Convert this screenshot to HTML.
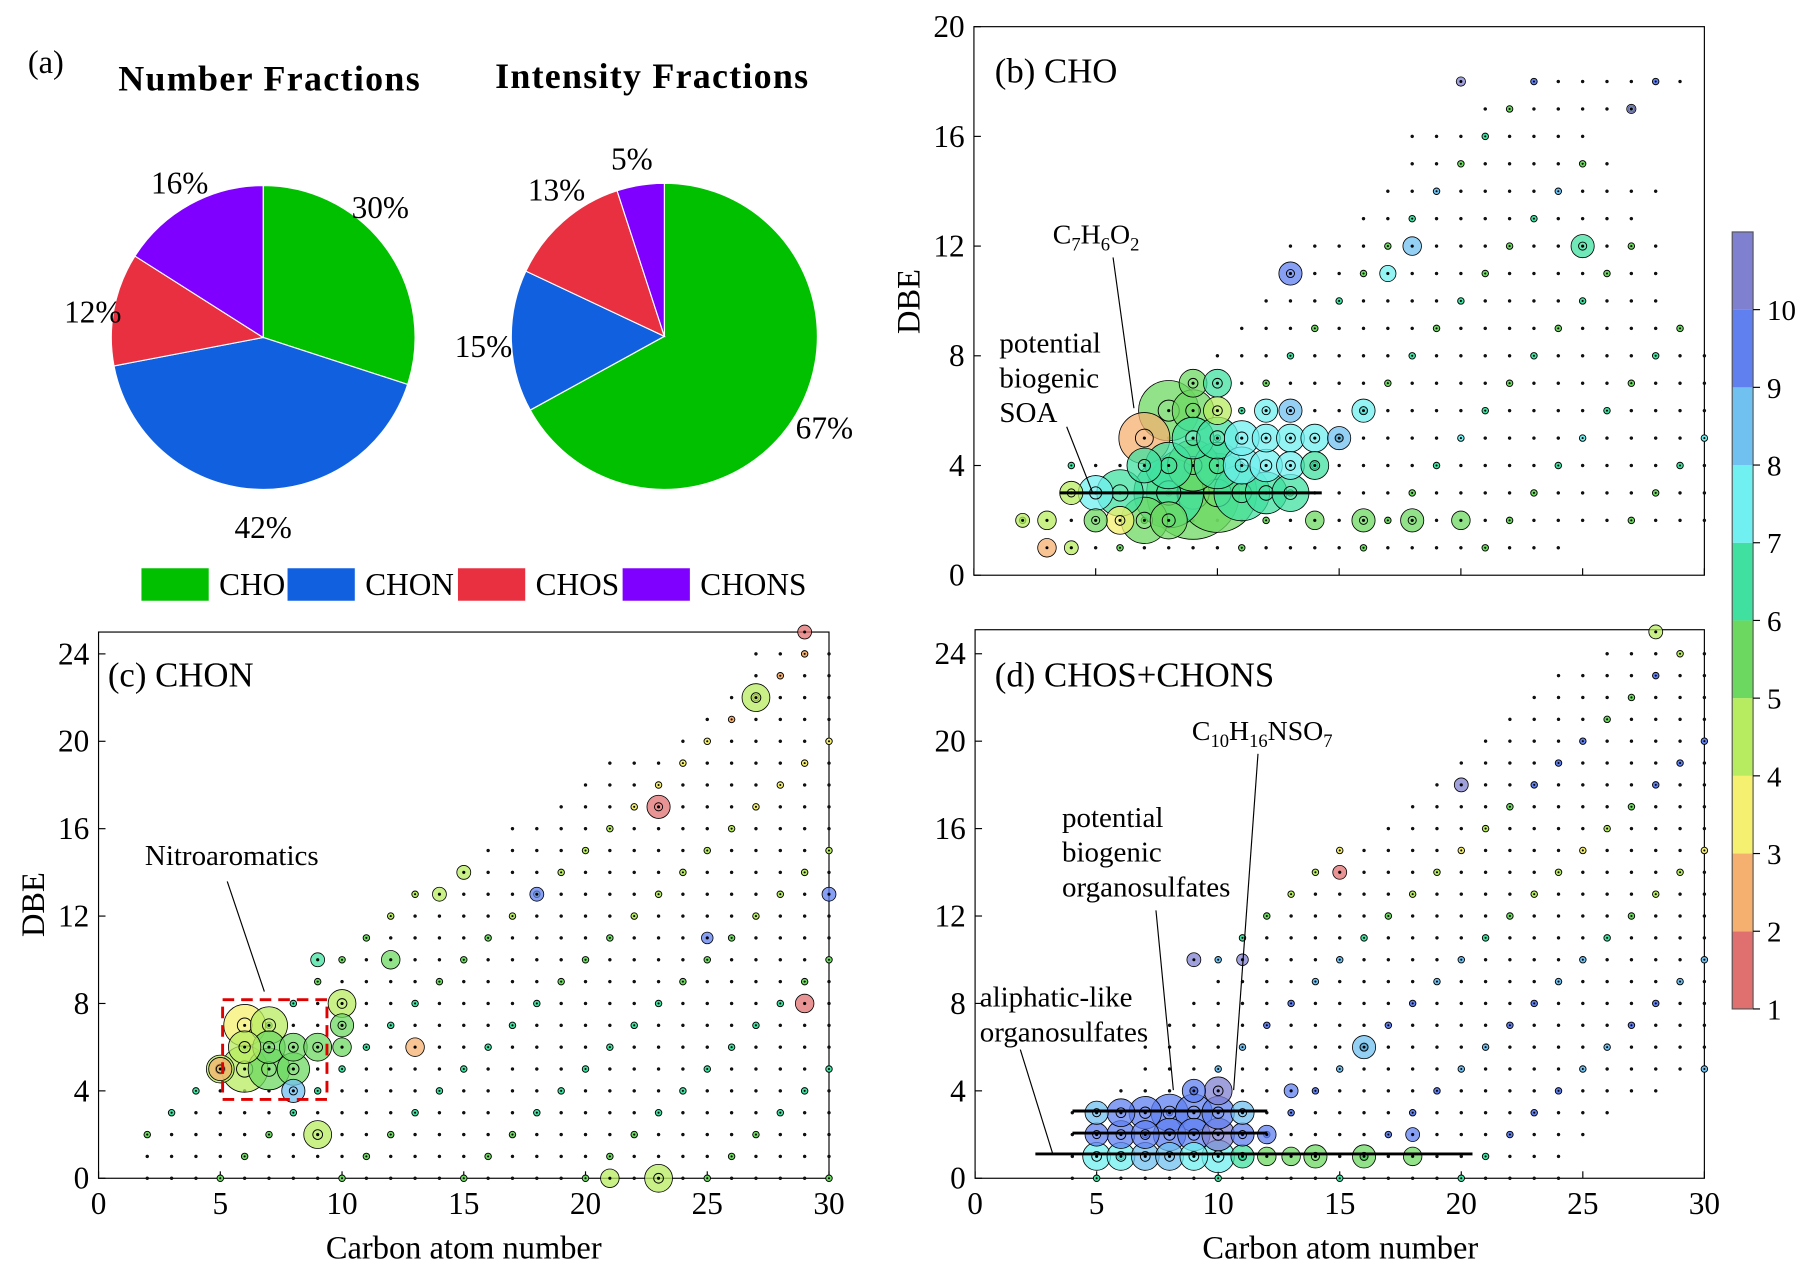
<!DOCTYPE html>
<html><head><meta charset="utf-8">
<style>
html,body{margin:0;padding:0;background:#fff;}
svg{display:block;font-family:"Liberation Serif",serif;}
</style></head>
<body>
<svg id="fig" width="1818" height="1278" viewBox="0 0 1568 1102" preserveAspectRatio="none" xmlns="http://www.w3.org/2000/svg">
<rect width="1568" height="1102" fill="#fff"/>
<g id="pies"></g>
<g id="pb"></g>
<g id="pc"></g>
<g id="pd"></g>
<g id="cbar"></g>
<g id="ann" font-size="25">
  <text x="24" y="63" font-size="28">(a)</text>
  <text x="232" y="78" font-size="31" font-weight="bold" text-anchor="middle" textLength="260">Number Fractions</text>
  <text x="562" y="76" font-size="31" font-weight="bold" text-anchor="middle" textLength="270">Intensity Fractions</text>
  <text x="858" y="71" font-size="30">(b) CHO</text>
  <text x="93" y="592" font-size="30">(c) CHON</text>
  <text x="858" y="592" font-size="30">(d) CHOS+CHONS</text>
  <text x="908" y="210" font-size="24">C<tspan font-size="16" dy="6">7</tspan><tspan dy="-6">H</tspan><tspan font-size="16" dy="6">6</tspan><tspan dy="-6">O</tspan><tspan font-size="16" dy="6">2</tspan></text>
  <line x1="960" y1="222" x2="978" y2="352" stroke="#000" stroke-width="1"/>
  <text x="862" y="304"><tspan x="862">potential</tspan><tspan x="862" dy="30">biogenic</tspan><tspan x="862" dy="30">SOA</tspan></text>
  <line x1="920" y1="368" x2="942" y2="424" stroke="#000" stroke-width="1"/>
  <text x="125" y="746">Nitroaromatics</text>
  <line x1="196" y1="760" x2="228" y2="855" stroke="#000" stroke-width="1"/>
  <rect x="192" y="862" width="90" height="86" fill="none" stroke="#e00000" stroke-width="2.5" stroke-dasharray="10,6"/>
  <text x="1028" y="638" font-size="24">C<tspan font-size="16" dy="6">10</tspan><tspan dy="-6">H</tspan><tspan font-size="16" dy="6">16</tspan><tspan dy="-6">NSO</tspan><tspan font-size="16" dy="6">7</tspan></text>
  <line x1="1085" y1="650" x2="1064" y2="940" stroke="#000" stroke-width="1"/>
  <text x="916" y="713"><tspan x="916">potential</tspan><tspan x="916" dy="30">biogenic</tspan><tspan x="916" dy="30">organosulfates</tspan></text>
  <line x1="997" y1="785" x2="1012" y2="940" stroke="#000" stroke-width="1"/>
  <text x="845" y="868"><tspan x="845">aliphatic-like</tspan><tspan x="845" dy="30">organosulfates</tspan></text>
  <line x1="880" y1="905" x2="908" y2="995" stroke="#000" stroke-width="1"/>
</g>
</svg>
<script>
// ---------- DATA ----------
const pieCategories = ["CHO","CHON","CHOS","CHONS"];
const numberFractions = [30,42,12,16];
const intensityFractions = [67,15,13,5];
const pieColors = ["#00c000","#1060e0","#e83040","#8000ff"];

const colorTicks = [1,2,3,4,5,6,7,8,9,10];
const colorBands = ["#e07070","#f5b070","#f5f070","#b8ec60","#6cd860","#40e0a0","#70f0f0","#70c0f0","#6080f0","#8080d0"];
const xTicks = [0,5,10,15,20,25,30];
const yTicksB = [0,4,8,12,16,20];
const yTicksCD = [0,4,8,12,16,20,24];

const rowsB_dbe = [1,2,3,4,5,6,7,8,9,10,11,12,13,14,15,16,17,18];
const rowsB_min = [4,2,4,4,7,8,9,10,11,12,13,13,16,17,18,18,21,23];
const rowsB_max = [24,30,30,30,30,30,30,30,29,28,28,28,27,28,26,25,27,29];
const rowsB_col = [5,5,5,6,7,6,5,6,5,6,5,5,6,8,5,6,5,9];

const rowsC_dbe = [0,1,2,3,4,5,6,7,8,9,10,11,12,13,14,15,16,17,18,19,20,21,22,23,24];
const rowsC_min = [2,2,2,3,4,5,6,7,8,9,9,11,12,13,15,16,17,19,20,21,24,25,26,27,27];
const rowsC_max = [30,30,30,30,30,30,30,30,30,30,30,30,30,30,30,30,30,30,30,30,30,30,30,30,30];
const rowsC_col = [5,5,5,6,6,6,6,6,6,5,5,5,4,4,4,4,4,3,3,3,3,2,2,2,2];

const rowsD_dbe = [0,1,2,3,4,5,6,7,8,9,10,11,12,13,14,15,16,17,18,19,20,21,22,23,24];
const rowsD_min = [4,4,4,4,6,7,7,8,9,10,10,11,12,13,14,15,17,18,19,20,21,22,23,24,26];
const rowsD_max = [24,24,25,26,28,30,30,30,30,30,30,30,30,30,30,30,30,30,30,30,30,30,30,30,30];
const rowsD_col = [6,6,9,9,9,8,8,9,9,8,8,6,5,4,4,3,4,5,9,9,9,5,5,9,4];

const bubB_c = [8,9,10,11,12,13,7,8,6,5,4,6,5,3,2,3,4,7,8,9,9,10,10,9,10,11,12,13,14,15,11,12,13,14,10,9,8,7,12,13,16,13,18,25,17,16,18,20,14,20,27];
const bubB_d = [3,3,3,3,3,3,2,2,3,3,3,2,2,2,2,1,1,5,6,6,7,7,6,5,5,5,5,5,5,5,4,4,4,4,4,4,4,4,6,6,6,11,12,12,11,2,2,2,2,18,17];
const bubB_r = [30,40,34,24,18,16,20,16,20,15,10,12,10,8,6,8,6,22,26,18,12,12,12,18,18,15,12,12,12,10,16,14,12,12,20,22,20,15,10,10,10,10,8,10,7,10,10,8,8,4,4];
const bubB_v = [6,5,5,6,6,6,5,5,6,7,4,3,5,4,4,2,4,2,5,5,5,6,4,6,6,7,7,7,7,8,7,7,7,6,6,5,6,6,7,8,7,9,8,6,7,5,5,5,5,10,10];

const bubC_c = [6,7,6,5,7,8,8,9,5,7,6,8,9,10,10,10,27,23,29,23,21,13,18,15,14,29,30,25,12,9];
const bubC_d = [7,7,5,5,5,5,6,6,5,6,6,4,2,8,7,6,22,17,8,0,0,6,13,14,13,25,13,11,10,10];
const bubC_r = [18,16,20,12,18,14,12,12,10,14,14,10,12,12,10,8,12,10,8,12,8,8,6,6,6,6,6,5,8,6];
const bubC_v = [3,4,4,4,5,5,5,5,2,5,4,8,4,4,5,5,4,1,1,4,4,2,9,4,4,1,9,9,5,6];

const bubD_c = [5,6,7,8,9,10,11,12,13,14,16,18,5,6,7,8,9,10,11,12,5,6,7,8,9,10,11,9,10,16,15,9,20,28,13,11,18];
const bubD_d = [1,1,1,1,1,1,1,1,1,1,1,1,2,2,2,2,2,2,2,2,3,3,3,3,3,3,3,4,4,6,14,10,18,25,4,10,2];
const bubD_r = [12,12,12,12,12,14,10,8,8,10,10,8,10,12,12,14,14,14,10,8,10,12,14,16,16,14,10,10,12,10,6,6,6,6,6,5,6];
const bubD_v = [7,7,8,8,7,7,6,5,5,5,5,5,9,9,9,9,9,10,9,9,8,9,9,9,9,9,8,9,10,8,1,10,10,4,9,10,9];

// ---------- DRAW ----------
const NS="http://www.w3.org/2000/svg";
function mk(tag,attrs,parent){const e=document.createElementNS(NS,tag);for(const k in attrs)e.setAttribute(k,attrs[k]);parent.appendChild(e);return e;}
function colorOf(v){const i=Math.max(0,Math.min(colorBands.length-1,Math.floor(v)-1));return colorBands[i];}

function drawPie(g,cx,cy,r,vals,name){
  let a0=0;const tot=vals.reduce((s,v)=>s+v,0);
  vals.forEach((v,i)=>{
    const a1=a0+v/tot*2*Math.PI;
    const x0=cx+r*Math.sin(a0),y0=cy-r*Math.cos(a0),x1=cx+r*Math.sin(a1),y1=cy-r*Math.cos(a1);
    const p=mk("path",{d:`M${cx},${cy}L${x0},${y0}A${r},${r} 0 ${a1-a0>Math.PI?1:0} 1 ${x1},${y1}Z`,fill:pieColors[i],stroke:"#fff","stroke-width":1},g);
    
    
    a0=a1;
  });
}
const pies=document.getElementById("pies");
drawPie(pies,227,291,131,numberFractions,"number-pie");
drawPie(pies,573,290,132,intensityFractions,"intensity-pie");
const pieLabels=[[155,167,numberFractions[3]],[328,188,numberFractions[0]],[80,278,numberFractions[2]],[227,464,numberFractions[1]],[545,146,intensityFractions[3]],[480,173,intensityFractions[2]],[417,308,intensityFractions[1]],[711,378,intensityFractions[0]]];
pieLabels.forEach(l=>{const t=mk("text",{x:l[0],y:l[1],"font-size":27,"text-anchor":"middle"},pies);t.textContent=l[2]+"%";

});
const legX=[122,248,395,537];
pieCategories.forEach((c,i)=>{
  const r=mk("rect",{x:legX[i],y:490,width:58,height:28,fill:pieColors[i]},pies);
  
  
  const t=mk("text",{x:legX[i]+67,y:513,"font-size":27},pies);t.textContent=c;
  
  
});

function panel(g,x0,x1,yb,yt,ymaxVal,yTicks,showX,rows,bub){
  const xs=c=>x0+c/30*(x1-x0);
  const ys=d=>yb-d/ymaxVal*(yb-yt);
  const fr=mk("rect",{x:x0,y:yt,width:x1-x0,height:yb-yt,fill:"#fff",stroke:"#000","stroke-width":1},g);
  
  
  yTicks.forEach(v=>{mk("line",{x1:x0,x2:x0+6,y1:ys(v),y2:ys(v),stroke:"#000"},g);
    const t=mk("text",{x:x0-8,y:ys(v)+9,"font-size":27,"text-anchor":"end"},g);t.textContent=v;
    
    });
  xTicks.forEach(v=>{mk("line",{x1:xs(v),x2:xs(v),y1:yb,y2:yb-6,stroke:"#000"},g);
    if(showX){const t=mk("text",{x:xs(v),y:yb+31,"font-size":27,"text-anchor":"middle"},g);t.textContent=v;
    
    }});
  const [rd,rmin,rmax,rcol]=rows;
  rd.forEach((d,i)=>{for(let c=rmin[i];c<=rmax[i];c++){
    const big=(c*7+d*3)%5===0;
    const s=mk("circle",{cx:xs(c),cy:ys(d),r:big?2.8:1.3,fill:big?colorOf(rcol[i]):"#111",stroke:"#000","stroke-width":big?0.8:0.4},g);
    
    
    if(big)mk("circle",{cx:xs(c),cy:ys(d),r:0.9,fill:"#000"},g);}});
  const [bc,bd,br,bv]=bub;
  const order=bc.map((_,i)=>i).sort((a,b)=>br[b]-br[a]);
  order.forEach(i=>{
    const c=mk("circle",{cx:xs(bc[i]),cy:ys(bd[i]),r:br[i],fill:colorOf(bv[i]),"fill-opacity":0.75,stroke:"#000","stroke-width":0.7},g);
    
    
    if(br[i]>9)mk("circle",{cx:xs(bc[i]),cy:ys(bd[i]),r:br[i]*0.35,fill:"none",stroke:"#000","stroke-width":0.8},g);
    mk("circle",{cx:xs(bc[i]),cy:ys(bd[i]),r:1.3,fill:"#000"},g);
  });
}
panel(document.getElementById("pb"),840,1470,496,23,20,yTicksB,false,[rowsB_dbe,rowsB_min,rowsB_max,rowsB_col],[bubB_c,bubB_d,bubB_r,bubB_v]);
panel(document.getElementById("pc"),85,715,1016,545,25,yTicksCD,true,[rowsC_dbe,rowsC_min,rowsC_max,rowsC_col],[bubC_c,bubC_d,bubC_r,bubC_v]);
panel(document.getElementById("pd"),841,1470,1016,543,25.1,yTicksCD,true,[rowsD_dbe,rowsD_min,rowsD_max,rowsD_col],[bubD_c,bubD_d,bubD_r,bubD_v]);

const ann=document.getElementById("ann");
[[400,1085,0,"Carbon atom number","x-axis-title-c"],[1156,1085,0,"Carbon atom number","x-axis-title-d"]].forEach(a=>{
  const t=mk("text",{x:a[0],y:a[1],"font-size":28,"text-anchor":"middle"},ann);t.textContent=a[3];
  
  });
[[793,260,"y-axis-title-b"],[38,780,"y-axis-title-c"]].forEach(a=>{
  const t=mk("text",{x:a[0],y:a[1],"font-size":28,"text-anchor":"middle",transform:`rotate(-90 ${a[0]} ${a[1]})`},ann);t.textContent="DBE";
  
  });
[[914,1140,425],[925,1093,958],[925,1093,977],[893,1270,995]].forEach(l=>{
  const e=mk("line",{x1:l[0],x2:l[1],y1:l[2],y2:l[2],stroke:"#000","stroke-width":2.5},ann);
  
  });

const cb=document.getElementById("cbar");
const cy0=870,cstep=67;
colorBands.forEach((col,i)=>{
  const r=mk("rect",{x:1494,y:cy0-(i+1)*cstep,width:18,height:cstep,fill:col},cb);
  
  });
mk("rect",{x:1494,y:cy0-colorBands.length*cstep,width:18,height:colorBands.length*cstep,fill:"none",stroke:"#555","stroke-width":1},cb);
colorTicks.forEach(v=>{const y=cy0-(v-1)*cstep;
  mk("line",{x1:1512,x2:1518,y1:y,y2:y,stroke:"#000"},cb);
  const t=mk("text",{x:1524,y:y+9,"font-size":25},cb);t.textContent=v;
  
  });
</script>
</body></html>
